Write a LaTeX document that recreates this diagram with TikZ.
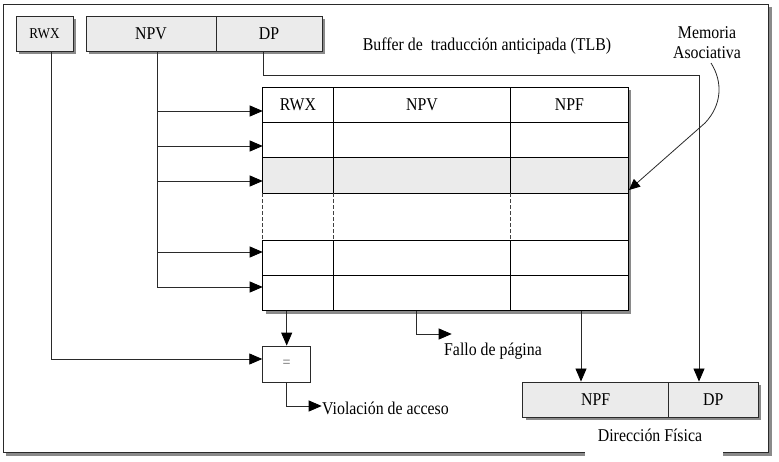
\documentclass[tikz,border=0pt]{standalone}
\usepackage{fontspec}
\setmainfont{Liberation Serif}[FakeStretch=0.88]
\usetikzlibrary{arrows.meta,shadows}
\definecolor{boxgray}{HTML}{EBEBEB}
\definecolor{shad}{HTML}{8A8A8A}
\definecolor{ln}{HTML}{2A2A2A}
\begin{document}
\begin{tikzpicture}[x=1pt,y=-1pt,
  conn/.style={draw=ln, line width=0.8pt},
  arr/.style={conn,-{Triangle[length=13pt,width=11pt,color=black]}},
  txt/.style={font=\fontsize{18}{20}\selectfont, inner sep=0pt},
  graybox/.style={draw=ln, line width=0.9pt, fill=boxgray, inner sep=0pt,
    minimum height=35pt, font=\fontsize{18}{20}\selectfont,
    drop shadow={shadow xshift=3pt,shadow yshift=-3pt,fill=shad,opacity=1}},
  tline/.style={draw=black, line width=0.9pt},
  tdash/.style={draw=black!75, line width=0.9pt, dash pattern=on 4pt off 2pt},
]
\useasboundingbox (0,0) rectangle (779,461);
% outer frame
\fill[shad] (6,7) rectangle (772,456);
\draw[ln, fill=white, line width=0.8pt] (3,4) rectangle (768.5,452.5);
\fill[white] (585,421) rectangle (723,458);

% top address boxes
\node[graybox, minimum width=57pt, font=\fontsize{15}{17}\selectfont] (rwx) at (44.5,33.5) {RWX};
\node[graybox, minimum width=130pt] (npv) at (151,33.5) {NPV};
\node[graybox, minimum width=106pt] (dp) at (269,33.5) {DP};

% TLB table
\fill[shad] (265.7,90.3) rectangle (631.3,313.7);
\fill[white] (262.7,87.3) rectangle (628.3,310.7);
\fill[boxgray] (262.7,157.7) rectangle (628.3,193.3);
\foreach \y in {122.3,157.7,193.3,240.3,275.7}
  \draw[tline, line width=0.8pt] (262.7,\y) -- (628.3,\y);
\foreach \x in {333.3,510.7}{
  \draw[tline, line width=0.8pt] (\x,87.3) -- (\x,193.3);
  \draw[tdash] (\x,193.3) -- (\x,240.3);
  \draw[tline, line width=0.8pt] (\x,240.3) -- (\x,310.7);
}
\draw[tline] (262.7,193.3) -- (262.7,87.3) -- (628.3,87.3) -- (628.3,310.7) -- (262.7,310.7) -- (262.7,240.3);
\draw[tdash] (262.7,193.3) -- (262.7,240.3);
\node[txt] (hrwx) at (298,104.8) {RWX};
\node[txt] (hnpv) at (422,104.8) {NPV};
\node[txt] (hnpf) at (569.5,104.8) {NPF};

% named points
\coordinate (tl) at (262.7,0);
\coordinate (c51) at (51,0);
\coordinate (c157) at (157,0);
\coordinate (c263) at (263,0);
\coordinate (c699) at (699,75.7);
\coordinate (crwx) at (286.7,310.7);
\coordinate (cfallo) at (416.7,310.7);
\coordinate (fallotip) at (451.7,334);
\coordinate (cnpf) at (581,310.7);
\coordinate (viotip) at (321.7,406);

% NPV distribution
\draw[conn] (npv.south -| c157) -- (157,287);
\foreach \y in {111,146,181,252,287}
  \draw[arr] (157,\y) -- (tl |- 0,\y);

% comparator
\node[draw=ln, line width=0.8pt, fill=white, minimum width=48pt, minimum height=36pt,
      inner sep=0pt, font=\fontsize{16}{18}\selectfont, text=black!60] (eq) at (286.7,364) {=};
\draw[arr] (crwx) -- (eq.north);
\draw[arr] (rwx.south -| c51) |- ([yshift=5pt]eq.west);
\draw[arr] (eq.south) |- (viotip);
\node[txt, anchor=west] (vio) at (322,408) {Violación de acceso};

% page fault
\draw[arr] (cfallo) |- (fallotip);
\node[txt] (fallo) at (493,351) {Fallo de página};

% physical address
\node[graybox, minimum width=145.8pt] (npf2) at (595.6,399.5) {NPF};
\node[graybox, minimum width=89.5pt] (dp2) at (713.25,399.5) {DP};
\node[txt] (dirf) at (650,435) {Dirección Física};
\draw[arr] (cnpf) -- (npf2.north -| cnpf);
\draw[arr] (dp.south -| c263) |- (c699) -- (dp2.north -| c699);

% labels
\node[txt] (tlb) at (487,46) {Buffer de\ \ traducción anticipada (TLB)};
\node[txt, align=center] (mem) at (707,43) {Memoria\\Asociativa};
\coordinate (curvetip) at (629,190);
\draw[conn, -{Triangle[length=11pt,width=10pt,color=black]}] (711,63) .. controls (723,82) and (722,105) .. (705,123) -- (curvetip);
\end{tikzpicture}
\end{document}
